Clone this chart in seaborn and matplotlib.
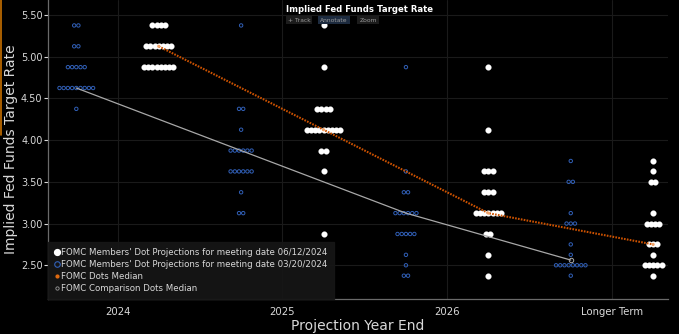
import numpy as np
import pandas as pd
import matplotlib
matplotlib.use("Agg")
import matplotlib.pyplot as plt
import seaborn as sns
from matplotlib.lines import Line2D

# ---------------- data ----------------
categories = ["2024", "2025", "2026", "Longer Term"]

# FOMC dots, meeting 06/12/2024: rate levels and number of participants per level
june_rates = [
    [5.375, 5.125, 4.875],
    [5.375, 4.875, 4.375, 4.125, 3.875, 3.625, 2.875],
    [4.875, 4.125, 3.625, 3.375, 3.125, 2.875, 2.625, 2.375],
    [3.75, 3.625, 3.5, 3.125, 3.0, 2.75, 2.625, 2.5, 2.375],
]
june_counts = [
    [4, 7, 8],
    [1, 1, 4, 9, 2, 1, 1],
    [1, 1, 3, 3, 7, 2, 1, 1],
    [1, 1, 2, 1, 4, 3, 1, 5, 1],
]

# FOMC dots, meeting 03/20/2024
march_rates = [
    [5.375, 5.125, 4.875, 4.625, 4.375],
    [5.375, 4.375, 4.125, 3.875, 3.625, 3.375, 3.125],
    [4.875, 3.625, 3.375, 3.125, 2.875, 2.625, 2.5, 2.375],
    [3.75, 3.5, 3.125, 3.0, 2.75, 2.625, 2.5, 2.375],
]
march_counts = [
    [2, 2, 5, 9, 1],
    [1, 2, 1, 6, 6, 1, 2],
    [1, 1, 2, 6, 5, 1, 1, 2],
    [1, 2, 1, 3, 1, 1, 8, 1],
]

june_median = [5.125, 4.125, 3.125, 2.75]
march_median = [4.625, 3.875, 3.125, 2.5625]

yticks = [2.5, 3.0, 3.5, 4.0, 4.5, 5.0, 5.5]

legend_labels = [
    "FOMC Members' Dot Projections for meeting date 06/12/2024",
    "FOMC Members' Dot Projections for meeting date 03/20/2024",
    "FOMC Dots Median",
    "FOMC Comparison Dots Median",
]

# ---------------- layout helpers ----------------
OFF = 0.25      # group offset from category center
PITCH = 0.0255  # spacing between side-by-side dots


def expand(rates, counts, offset):
    rows = []
    for i, (rs, cs) in enumerate(zip(rates, counts)):
        for r, n in zip(rs, cs):
            for j in range(n):
                rows.append({"x": i + offset + (j - (n - 1) / 2) * PITCH, "rate": r})
    return pd.DataFrame(rows)


df_june = expand(june_rates, june_counts, OFF)
df_march = expand(march_rates, march_counts, -OFF)
df_jmed = pd.DataFrame({"x": np.arange(len(categories)) + OFF, "rate": june_median})
df_mmed = pd.DataFrame({"x": np.arange(len(categories)) - OFF, "rate": march_median})

# ---------------- style ----------------
sns.set_theme(style="dark")
plt.rcParams["font.family"] = ["DejaVu Sans"]

BG = "#000000"
TXT = "#d9d9d9"
fig = plt.figure(figsize=(6.79, 3.34), dpi=100, facecolor=BG)
ax = fig.add_axes([48 / 679, 1 - 299 / 334, 620 / 679, 299 / 334])
ax.set_facecolor(BG)

# grid
for yv in yticks:
    ax.axhline(yv, color="#1a1a1a", lw=0.8, zorder=0)
for i in range(len(categories)):
    ax.axvline(i, color="#1a1a1a", lw=0.8, zorder=0)

# dots
sns.scatterplot(data=df_march, x="x", y="rate", ax=ax, marker="o", s=6,
                facecolor="none", edgecolor="#3160b8", linewidth=0.7, zorder=3, legend=False)
sns.scatterplot(data=df_june, x="x", y="rate", ax=ax, marker="o", s=17,
                color="white", edgecolor="white", linewidth=0.2, zorder=3, legend=False)

# medians
sns.lineplot(data=df_mmed, x="x", y="rate", ax=ax, sort=False, color="#a8a8a8",
             lw=0.9, zorder=4, legend=False)
ax.plot(df_mmed["x"].iloc[-1:], df_mmed["rate"].iloc[-1:], "o", ms=3.2, mfc="none",
        mec="#a8a8a8", mew=0.7, zorder=5)
sns.lineplot(data=df_jmed, x="x", y="rate", ax=ax, sort=False, color="#cc5200",
             lw=1.5, linestyle=(0, (0.8, 0.6)), zorder=4, legend=False)
sns.scatterplot(data=df_jmed, x="x", y="rate", ax=ax, marker="o", s=5,
                color="#f2a46a", edgecolor="none", zorder=5, legend=False)

# axes
ax.set_xlim(-0.4217, 3.340)
ax.set_ylim(2.0956, 5.68)
ax.set_xticks(range(len(categories)))
ax.set_xticklabels(categories)
ax.set_yticks(yticks)
ax.set_yticklabels([f"{v:.2f}" for v in yticks])
ax.tick_params(axis="y", colors=TXT, labelsize=7, length=3, width=0.8, pad=1, left=True)
ax.tick_params(axis="x", colors=TXT, labelsize=7.3, length=0, pad=6)
ax.set_xlabel("Projection Year End", color=TXT, fontsize=10, labelpad=1)
ax.set_ylabel("Implied Fed Funds Target Rate", color=TXT, fontsize=10, labelpad=2)
for side in ["top", "right"]:
    ax.spines[side].set_visible(False)
for side in ["left", "bottom"]:
    ax.spines[side].set_visible(True)
    ax.spines[side].set_color("#6a6a6a")
    ax.spines[side].set_linewidth(0.9)

# legend
handles = [
    Line2D([], [], ls="none", marker="o", ms=4.2, mfc="white", mec="white"),
    Line2D([], [], ls="none", marker="o", ms=4.0, mfc="none", mec="#3160b8", mew=0.8),
    Line2D([], [], ls="none", marker="o", ms=2.0, mfc="#e06a10", mec="#e06a10"),
    Line2D([], [], ls="none", marker="o", ms=2.4, mfc="none", mec="#9a9a9a", mew=0.6),
]
leg = ax.legend(handles, legend_labels, loc="lower left", bbox_to_anchor=(0.0, 0.0),
                fontsize=6.2, labelcolor=TXT, frameon=True, fancybox=False,
                facecolor="#161616", edgecolor="#161616", framealpha=0.92,
                handlelength=0.5, handletextpad=0.25, labelspacing=0.32,
                borderpad=0.75, borderaxespad=0.0)

# title and toolbar
fig.text(360 / 679, 1 - 9 / 334, "Implied Fed Funds Target Rate", color="white",
         fontsize=6.1, fontweight="bold", ha="center", va="center")
for label, xc, bg in [("+ Track", 299 / 679, "#1c1c1c"),
                      ("Annotate", 334 / 679, "#1d2b3f"),
                      ("Zoom", 368 / 679, "#1c1c1c")]:
    fig.text(xc, 1 - 20 / 334, label, color="#9a9a9a", fontsize=4.3, ha="center",
             va="center", bbox=dict(boxstyle="square,pad=0.3", fc=bg, ec="none"))

# orange frame accent on the left edge
fig.add_artist(Line2D([0.001, 0.001], [1.0, 1 - 135 / 334], transform=fig.transFigure,
                      color="#c87000", lw=1.2))

fig.savefig("out.png", dpi=100, facecolor=BG)
